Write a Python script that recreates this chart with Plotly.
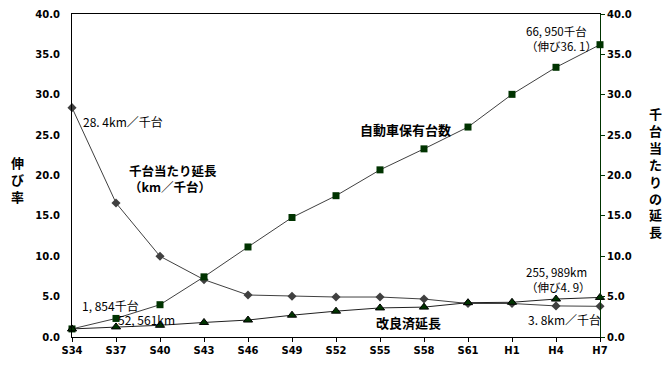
import plotly.graph_objects as go

categories = ["S34", "S37", "S40", "S43", "S46", "S49", "S52", "S55", "S58", "S61", "H1", "H4", "H7"]
per_thousand = [28.4, 16.6, 10.0, 7.1, 5.2, 5.05, 4.95, 4.95, 4.7, 4.15, 4.15, 3.85, 3.8]
vehicles = [1.0, 2.3, 4.0, 7.45, 11.15, 14.8, 17.5, 20.7, 23.3, 26.0, 30.05, 33.4, 36.2]
improved = [1.0, 1.25, 1.45, 1.8, 2.1, 2.7, 3.2, 3.6, 3.7, 4.25, 4.3, 4.7, 4.9]
y_ticks = [0, 5, 10, 15, 20, 25, 30, 35, 40]

xs = list(range(len(categories)))
JP = "Noto Sans CJK JP"
NUM = "DejaVu Sans"
GREEN = "#003300"

fig = go.Figure()
fig.add_trace(go.Scatter(x=xs, y=per_thousand, mode="lines+markers", cliponaxis=False,
                         line=dict(color="#404040", width=1),
                         marker=dict(symbol="diamond", size=7, color="#404040")))
fig.add_trace(go.Scatter(x=xs, y=vehicles, mode="lines+markers", cliponaxis=False,
                         line=dict(color="#404040", width=1),
                         marker=dict(symbol="square", size=7, color=GREEN)))
fig.add_trace(go.Scatter(x=xs, y=improved, mode="lines+markers", cliponaxis=False,
                         line=dict(color="#202020", width=1),
                         marker=dict(symbol="triangle-up", size=8, color=GREEN,
                                     line=dict(color="black", width=1))))
# invisible trace for right axis
fig.add_trace(go.Scatter(x=[xs[0]], y=[0], yaxis="y2", mode="markers",
                         marker=dict(opacity=0), hoverinfo="skip"))

tickfont = dict(family=NUM, size=10, color="black", weight="bold")

# page body has an 8px margin, so the plot area is placed 8px up/left of target
fig.update_layout(
    width=670, height=367,
    margin=dict(l=64, r=78, t=6, b=38, autoexpand=False),
    plot_bgcolor="white", paper_bgcolor="white",
    showlegend=False,
    xaxis=dict(range=[0, 12], tickvals=xs, ticktext=categories, showgrid=False,
               zeroline=False, showline=True, linecolor="black", linewidth=1, mirror=True,
               ticks="outside", ticklen=4, tickcolor="black", tickfont=tickfont,
               automargin=False),
    yaxis=dict(range=[0, 40], tickvals=y_ticks, ticktext=[f"{v:.1f}" for v in y_ticks],
               showgrid=False, zeroline=False, showline=True, linecolor="black", linewidth=1,
               ticks="", ticklabelstandoff=9, tickfont=tickfont, automargin=False),
    yaxis2=dict(range=[0, 40], overlaying="y", side="right", tickvals=y_ticks,
                ticktext=[f"{v:.1f}" for v in y_ticks], showgrid=False, zeroline=False,
                showline=True, linecolor=GREEN, linewidth=1, ticks="outside", ticklen=4,
                tickcolor=GREEN, tickfont=tickfont, automargin=False),
)


def px(xp):
    return (xp - 72) / 528.0


def py(yp):
    return (337 - yp) / 323.0


def note(x, y, text, bold=False, size=11, xanchor="left", align="left"):
    fig.add_annotation(x=px(x), y=py(y), xref="paper", yref="paper", text=text, showarrow=False,
                       xanchor=xanchor, yanchor="middle", align=align,
                       font=dict(family=JP, size=size, color="black",
                                 weight="bold" if bold else "normal"))


note(81, 121, "28. 4km／千台", size=12)
note(127, 178.5, "千台当たり延長<br>（km／千台）", bold=True, size=12.5)
note(358, 129, "自動車保有台数", bold=True, size=13)
note(80, 305, "1, 854千台", size=12)
note(116, 319, "52, 561km", size=12)
note(374, 322, "改良済延長", bold=True, size=13)
note(524, 38.5, "66, 950千台<br>（伸び36. 1）", size=11.5)
note(524, 279, "255, 989km<br>（伸び4. 9）", size=11.5)
note(526, 319, "3. 8km／千台", size=12)

note(17, 180, "<br>".join("伸び率"), bold=True, size=13, xanchor="center", align="center")
note(655, 172, "<br>".join("千台当たりの延長"), bold=True, size=13, xanchor="center",
     align="center")

fig.write_html("out.html")
